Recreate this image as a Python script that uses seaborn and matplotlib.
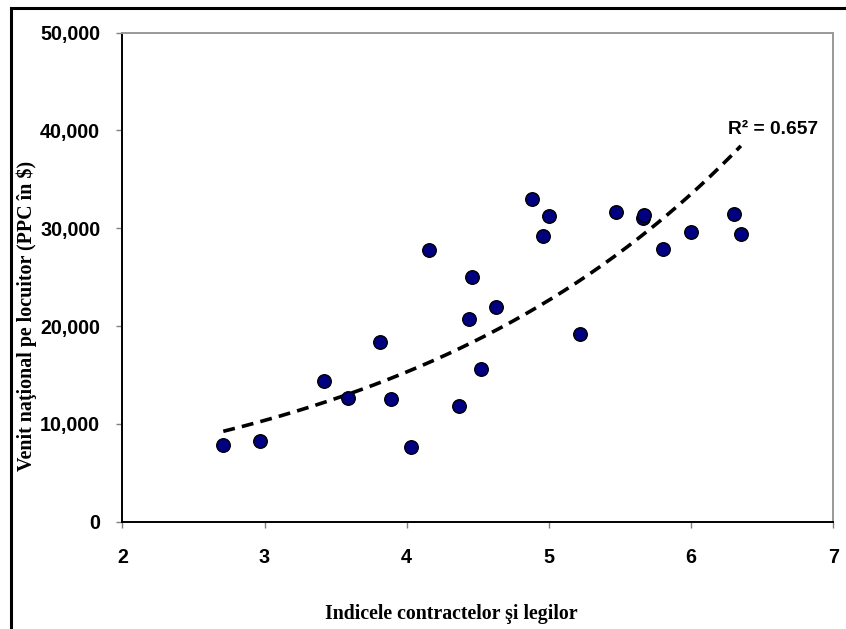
import numpy as np
import pandas as pd
import matplotlib
matplotlib.use("Agg")
import matplotlib.pyplot as plt
from matplotlib.patches import Rectangle
from matplotlib.ticker import FuncFormatter
import seaborn as sns

# Contract enforcement index vs. national income per capita (PPP, $)
indice = [2.71, 2.97, 3.42, 3.59, 3.81, 3.89, 4.03, 4.155, 4.37, 4.44, 4.46, 4.52,
          4.63, 4.88, 4.96, 5.00, 5.22, 5.47, 5.66, 5.67, 5.80, 6.00, 6.30, 6.35]
venit = [7870, 8200, 14330, 12600, 18360, 12570, 7660, 27740, 11860, 20670, 24970, 15590,
         21920, 33030, 29170, 31240, 19150, 31680, 31040, 31340, 27850, 29640, 31440, 29440]
r_squared = 0.657

x_ticks = [2, 3, 4, 5, 6, 7]
y_ticks = [0, 10000, 20000, 30000, 40000, 50000]

df = pd.DataFrame({"indice": indice, "venit": venit})

# exponential trend line y = a * exp(b x), fitted on log(y)
b, ln_a = np.polyfit(df["indice"], np.log(df["venit"]), 1)
xs = np.linspace(df["indice"].min(), df["indice"].max(), 200)
trend = pd.DataFrame({"indice": xs, "venit": np.exp(ln_a) * np.exp(b * xs)})

sns.set_style("white")
plt.rcParams["font.family"] = ["Liberation Sans", "DejaVu Sans"]
plt.rcParams["text.color"] = "black"
plt.rcParams["axes.labelcolor"] = "black"

fig = plt.figure(figsize=(8.46, 6.29), dpi=100)
ax = fig.add_axes([0.1446, 0.1706, 0.8404, 0.7777])

sns.lineplot(data=trend, x="indice", y="venit", ax=ax, color="black", lw=2.6,
             dashes=False, zorder=2)
ax.lines[0].set_dashes((3.3, 2.0))

sns.scatterplot(data=df, x="indice", y="venit", ax=ax, s=95, color="#000080",
                edgecolor="black", linewidth=1.0, zorder=3)

ax.set_xlim(2, 7)
ax.set_ylim(0, 50000)
ax.set_xticks(x_ticks)
ax.set_yticks(y_ticks)
ax.yaxis.set_major_formatter(FuncFormatter(lambda v, p: f"{v:,.0f}"))

ax.tick_params(axis="y", length=4, width=1, color="#808080", labelcolor="black",
               pad=12, direction="out", left=True)
ax.tick_params(axis="x", length=4, width=1, color="#808080", labelcolor="black",
               pad=15, direction="out", bottom=True)
for lab in ax.get_xticklabels() + ax.get_yticklabels():
    lab.set_fontweight("bold")
    lab.set_fontsize(14.2)

for side in ["left", "bottom"]:
    ax.spines[side].set_color("black")
    ax.spines[side].set_linewidth(1.4)
for side in ["top", "right"]:
    ax.spines[side].set_color("#999999")
    ax.spines[side].set_linewidth(1.4)

serif = ["Liberation Serif", "DejaVu Serif"]
ax.set_xlabel("Indicele contractelor şi legilor", fontsize=14.3, fontweight="bold", family=serif)
ax.set_ylabel("Venit naţional pe locuitor (PPC în $)", fontsize=14.4, fontweight="bold", family=serif)
ax.xaxis.set_label_coords(0.463, -0.168)
ax.yaxis.set_label_coords(-0.12, 0.42)

ax.text(6.26, 40100, f"R² = {r_squared:.3f}", fontsize=13.8, fontweight="bold",
        ha="left", va="center")

# outer chart frame
fig.patches.append(Rectangle((10.5 / 846, -0.2), 1.2, 1.2 - 8 / 629,
                             transform=fig.transFigure, fill=False,
                             edgecolor="black", lw=2.2, clip_on=False))

fig.savefig("out.png", dpi=100, facecolor="white")
